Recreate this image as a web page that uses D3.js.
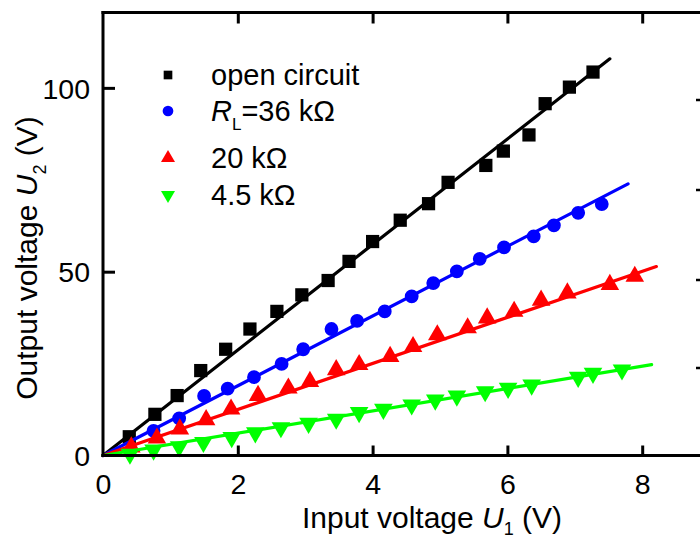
<!DOCTYPE html>
<html>
<head>
<meta charset="utf-8">
<script src="https://cdn.jsdelivr.net/npm/d3@7"></script>
<style>
  html, body { margin: 0; padding: 0; background: #fff; }
  svg { display: block; font-family: "Liberation Sans", Arial, sans-serif; }
</style>
</head>
<body>
<svg id="chart" width="700" height="539"></svg>
<script>
// ---- data ----
const seriesNames = ["open circuit", "RL=36 kΩ", "20 kΩ", "4.5 kΩ"];
const seriesColors = ["#000000", "#0000ff", "#ff0000", "#00ff00"];
const seriesSymbols = ["square", "circle", "triangle", "triangleDown"];

const openX = [0.39, 0.77, 1.10, 1.45, 1.82, 2.18, 2.58, 2.95, 3.34, 3.65, 4.00, 4.41, 4.83, 5.12, 5.68, 5.94, 6.32, 6.56, 6.92, 7.27];
const openY = [5.1, 11.2, 16.3, 23.1, 28.9, 34.4, 39.2, 43.7, 47.6, 52.8, 58.2, 64.0, 68.5, 74.3, 78.9, 82.8, 87.2, 95.7, 100.2, 104.3];

const r36X = [0.75, 1.13, 1.50, 1.85, 2.24, 2.65, 2.97, 3.39, 3.77, 4.18, 4.58, 4.90, 5.25, 5.59, 5.95, 6.39, 6.69, 7.05, 7.40];
const r36Y = [6.7, 10.1, 16.2, 18.2, 21.3, 24.9, 28.9, 34.4, 36.6, 39.2, 43.3, 46.9, 50.1, 53.5, 56.6, 59.6, 62.6, 66.0, 68.4];

const r20X = [0.42, 0.80, 1.14, 1.53, 1.90, 2.30, 2.75, 3.07, 3.46, 3.80, 4.26, 4.60, 4.96, 5.41, 5.70, 6.10, 6.50, 6.89, 7.52, 7.89];
const r20Y = [2.3, 4.7, 7.2, 9.7, 12.6, 16.3, 18.3, 20.1, 23.3, 24.7, 26.9, 29.6, 32.8, 34.7, 37.4, 39.2, 42.2, 44.2, 46.5, 48.7];

const r45X = [0.40, 0.75, 1.13, 1.49, 1.91, 2.26, 2.64, 3.05, 3.46, 3.80, 4.16, 4.58, 4.93, 5.25, 5.67, 6.01, 6.36, 7.05, 7.27, 7.70];
const r45Y = [0.4, 1.5, 2.4, 3.6, 4.9, 6.2, 7.6, 8.8, 9.9, 11.7, 12.6, 13.8, 15.1, 16.2, 17.4, 18.3, 19.2, 21.3, 22.4, 23.3];

// linear fit lines: start and end points
const fitStartX = [0, 0, 0, 0];
const fitStartY = [0, 0, 0, 0];
const fitEndX = [7.52, 7.79, 8.21, 8.14];
const fitEndY = [107.9, 73.9, 51.4, 24.7];

const xTicks = [0, 2, 4, 6, 8];
const yTicks = [0, 50, 100];
const xTitle = ["Input voltage ", "U", "1", " (V)"];
const yTitle = ["Output voltage ", "U", "2", " (V)"];

// ---- chart ----
const svg = d3.select("#chart");
const x = d3.scaleLinear().domain([0, 9]).range([103, 709.6]);
const y = d3.scaleLinear().domain([0, 120.5]).range([455.5, 12.5]);

const allX = [openX, r36X, r20X, r45X];
const allY = [openY, r36Y, r20Y, r45Y];

const symType = {
  square: d3.symbolSquare, circle: d3.symbolCircle,
  triangle: d3.symbolTriangle, triangleDown: d3.symbolTriangle
};
const symSize = { square: 175, circle: 150, triangle: 150, triangleDown: 150 };
const legSize = { square: 75, circle: 90, triangle: 85, triangleDown: 85 };

const plot = svg.append("g");
for (let s = 0; s < 4; s++) {
  const g = plot.append("g");
  g.append("line")
    .attr("x1", x(fitStartX[s])).attr("y1", y(fitStartY[s]))
    .attr("x2", x(fitEndX[s])).attr("y2", y(fitEndY[s]))
    .attr("stroke", seriesColors[s]).attr("stroke-width", 3.2)
    .attr("stroke-linecap", "round");
  const pts = allX[s].map((v, i) => [v, allY[s][i]]);
  const sym = seriesSymbols[s];
  g.selectAll("path.pt").data(pts).enter().append("path")
    .attr("class", "pt")
    .attr("d", d3.symbol().type(symType[sym]).size(symSize[sym]))
    .attr("transform", d => `translate(${x(d[0])},${y(d[1])})` + (sym === "triangleDown" ? " rotate(180)" : ""))
    .attr("fill", seriesColors[s]);
}

// axes
const axisW = 3;
const axBottom = svg.append("g").attr("transform", `translate(0,${y(0)})`)
  .call(d3.axisBottom(x).tickValues(xTicks).tickSizeInner(-10).tickSizeOuter(0).tickPadding(18));
const axTop = svg.append("g").attr("transform", `translate(0,${y.range()[1]})`)
  .call(d3.axisTop(x).tickValues(xTicks.filter(v => v > 0)).tickSizeInner(-11).tickSizeOuter(0).tickFormat(""));
const axLeft = svg.append("g").attr("transform", `translate(${x(0)},0)`)
  .call(d3.axisLeft(y).tickValues(yTicks).tickSizeInner(-12).tickSizeOuter(0).tickPadding(13));

[axBottom, axTop, axLeft].forEach(a => {
  a.select(".domain").attr("stroke", "#000").attr("stroke-width", axisW);
  a.selectAll(".tick line").attr("stroke", "#000").attr("stroke-width", axisW);
  a.selectAll(".tick text").attr("fill", "#000").attr("font-size", 28.5)
   .attr("font-family", "Liberation Sans, Arial, sans-serif");
});
axBottom.select(".domain").attr("d", `M${x(0) - 1.5},0H700`);
axTop.select(".domain").attr("d", `M${x(0) - 1.5},0H700`);
axLeft.select(".domain").attr("d", `M0,${y(0) + 1.5}V${y.range()[1] - 1.5}`);
axBottom.selectAll(".tick").filter(d => d === 0).select("line").remove();
axLeft.selectAll(".tick").filter(d => d === 0).select("line").remove();
axLeft.selectAll(".tick text").attr("dy", "0.36em");

// right-edge marks (partially visible right axis ticks)
const rightMarks = [100, 190, 280, 368];
svg.append("g").selectAll("line").data(rightMarks).enter().append("line")
  .attr("x1", 696).attr("x2", 700).attr("y1", d => d).attr("y2", d => d)
  .attr("stroke", "#000").attr("stroke-width", 2.5);

// axis titles
function richText(sel, parts, size, sub) {
  sel.append("tspan").text(parts[0]);
  sel.append("tspan").attr("font-style", "italic").text(parts[1]);
  sel.append("tspan").attr("font-size", size * 0.6).attr("dy", sub).text(parts[2]);
  sel.append("tspan").attr("dy", -sub).text(parts[3]);
}
const xt = svg.append("text").attr("x", 432).attr("y", 528)
  .attr("text-anchor", "middle").attr("font-size", 30).attr("fill", "#000");
richText(xt, xTitle, 30, 7);
const yt = svg.append("text").attr("transform", "translate(37,258) rotate(-90)")
  .attr("text-anchor", "middle").attr("font-size", 30).attr("fill", "#000");
richText(yt, yTitle, 30, 9);

// legend
const legY = [85, 121, 168, 205];
const leg = svg.append("g");
for (let s = 0; s < 4; s++) {
  const sym = seriesSymbols[s];
  leg.append("path")
    .attr("d", d3.symbol().type(symType[sym]).size(legSize[sym]))
    .attr("transform", `translate(168,${legY[s] - 10})` + (sym === "triangleDown" ? " rotate(180)" : ""))
    .attr("fill", seriesColors[s]);
  const t = leg.append("text").attr("x", 211).attr("y", legY[s]).attr("font-size", 29).attr("fill", "#000");
  if (s === 1) {
    t.append("tspan").attr("font-style", "italic").text("R");
    t.append("tspan").attr("font-size", 17).attr("dy", 9).text("L");
    t.append("tspan").attr("dy", -9).text("=36 kΩ");
  } else {
    t.text(seriesNames[s]);
  }
}
</script>
</body>
</html>
